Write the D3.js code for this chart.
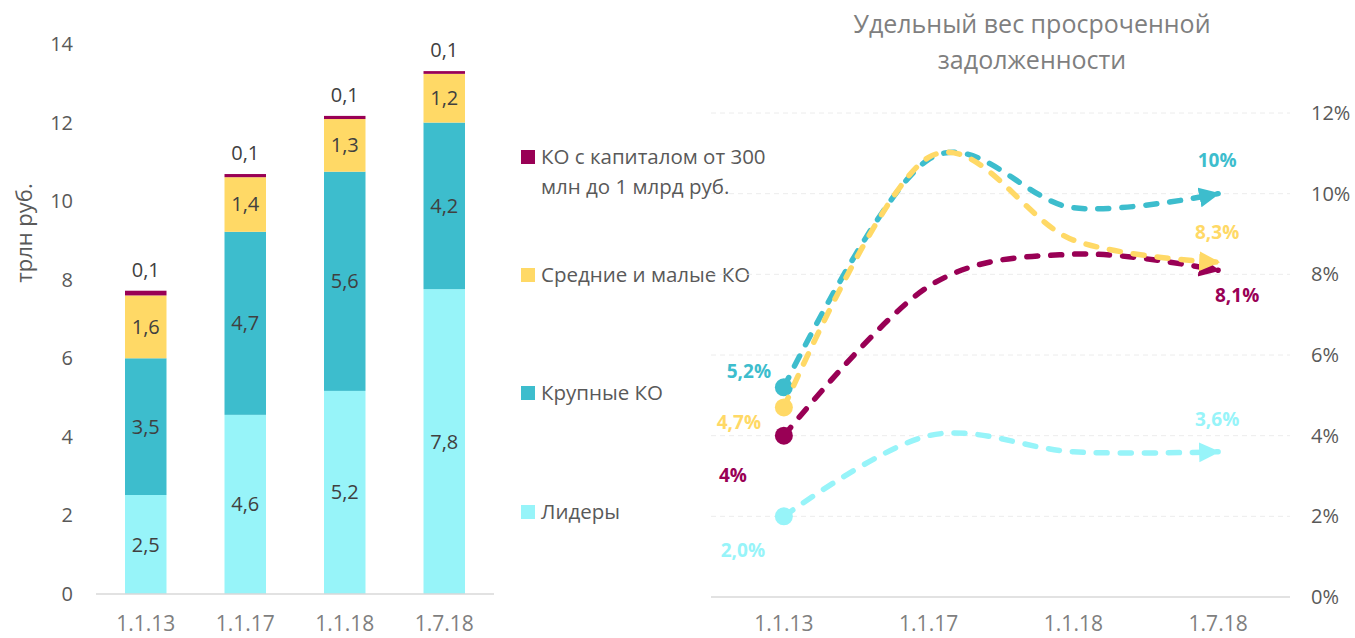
<!DOCTYPE html>
<html><head><meta charset="utf-8">
<script src="https://cdn.jsdelivr.net/npm/d3@7"></script>
<style>
body{margin:0;background:#fff;}
svg text{font-family:"Open Sans","Noto Sans",sans-serif;}
</style></head>
<body><svg id="c" width="1355" height="638"></svg>
<script>
// ---------- data ----------
const categories = ["1.1.13","1.1.17","1.1.18","1.7.18"];
const seriesNames = ["Лидеры","Крупные КО","Средние и малые КО","КО с капиталом от 300 млн до 1 млрд руб."];
const leaders   = [2.52, 4.56, 5.17, 7.76];
const large     = [3.48, 4.66, 5.58, 4.24];
const midSmall  = [1.60, 1.39, 1.34, 1.24];
const smallCap  = [0.12, 0.08, 0.08, 0.07];
const leftTicks = [0,2,4,6,8,10,12,14];

const shareLeaders  = [2.0, 4.0, 3.6, 3.6];
const shareLarge    = [5.2, 10.85, 9.65, 10.0];
const shareMidSmall = [4.7, 10.9, 8.85, 8.3];
const shareSmallCap = [4.0, 7.7, 8.5, 8.1];
const rightTicks = [0,2,4,6,8,10,12];
const startLabels = ["2,0%","5,2%","4,7%","4%"];
const endLabels   = ["3,6%","10%","8,3%","8,1%"];

const colors = ["#97f4f9","#3dbdcd","#ffd966","#990055"];

const svg = d3.select("#c");
const fmt = v => d3.format(".1f")(v).replace(".", ",");

// ---------- left stacked bars ----------
const x = d3.scaleBand().domain(categories).range([96,494]).paddingInner(0.583).paddingOuter(0.2915);
const y = d3.scaleLinear().domain([0,14]).range([594,44]);
const rows = categories.map((c,i)=>({cat:c, s0:leaders[i], s1:large[i], s2:midSmall[i], s3:smallCap[i]}));
const stack = d3.stack().keys(["s0","s1","s2","s3"])(rows);

const gL = svg.append("g");
stack.forEach((layer,li)=>{
  gL.selectAll(null).data(layer).enter().append("rect")
    .attr("x", d=>x(d.data.cat)).attr("width", x.bandwidth())
    .attr("y", d=>y(d[1])).attr("height", d=>y(d[0])-y(d[1]))
    .attr("fill", colors[li]);
  gL.selectAll(null).data(layer).enter().append("text")
    .attr("x", d=>x(d.data.cat)+x.bandwidth()/2)
    .attr("y", d=> li<3 ? (y(d[0])+y(d[1]))/2 : y(d[1])-21)
    .attr("dy","0.35em").attr("text-anchor","middle")
    .attr("font-size",20).attr("fill","#404040")
    .text(d=>fmt(d[1]-d[0]));
});
gL.append("line").attr("x1",96).attr("x2",494).attr("y1",y(0)).attr("y2",y(0))
  .attr("stroke","#d9d9d9").attr("stroke-width",1.5);
gL.selectAll(null).data(leftTicks).enter().append("text")
  .attr("x",73).attr("y",d=>y(d)).attr("dy","0.35em").attr("text-anchor","end")
  .attr("font-size",20).attr("fill","#595959").text(d=>d);
gL.selectAll(null).data(categories).enter().append("text")
  .attr("x",d=>x(d)+x.bandwidth()/2).attr("y",624).attr("dy","0.35em").attr("text-anchor","middle")
  .attr("font-size",21).attr("fill","#7f7f7f").text(d=>d);
gL.append("text").attr("transform","translate(24,233) rotate(-90)")
  .attr("text-anchor","middle").attr("dy","0.35em").attr("font-size",22).attr("fill","#595959")
  .text("трлн руб.");

// ---------- legend ----------
const legendItems = [
  {c:colors[3], lines:["КО с капиталом от 300","млн до 1 млрд руб."], y:157},
  {c:colors[2], lines:["Средние и малые КО"], y:275},
  {c:colors[1], lines:["Крупные КО"], y:393},
  {c:colors[0], lines:["Лидеры"], y:512}
];
const gLeg = svg.append("g");
legendItems.forEach(it=>{
  gLeg.append("rect").attr("x",521).attr("y",it.y-7).attr("width",14).attr("height",14).attr("fill",it.c);
  it.lines.forEach((t,k)=>{
    gLeg.append("text").attr("x",541).attr("y",it.y+k*30).attr("dy","0.35em")
      .attr("font-size",20.5).attr("fill","#595959").text(t);
  });
});

// ---------- right line chart ----------
const x2 = d3.scalePoint().domain(categories).range([711.5,1290.5]).padding(0.5);
const y2 = d3.scaleLinear().domain([0,12]).range([597,113]);
const gR = svg.append("g");
gR.append("text").attr("x",1032).attr("y",24).attr("dy","0.35em").attr("text-anchor","middle")
  .attr("font-size",25).attr("fill","#7f7f7f").text("Удельный вес просроченной");
gR.append("text").attr("x",1032).attr("y",60).attr("dy","0.35em").attr("text-anchor","middle")
  .attr("font-size",25).attr("fill","#7f7f7f").text("задолженности");
gR.selectAll(null).data(rightTicks.filter(d=>d>0)).enter().append("line")
  .attr("x1",711).attr("x2",1290).attr("y1",d=>y2(d)).attr("y2",d=>y2(d))
  .attr("stroke","#ececec").attr("stroke-width",1).attr("stroke-dasharray","5,4");
gR.append("line").attr("x1",711).attr("x2",1290).attr("y1",y2(0)).attr("y2",y2(0))
  .attr("stroke","#d9d9d9").attr("stroke-width",1.5);
gR.selectAll(null).data(rightTicks).enter().append("text")
  .attr("x",1311).attr("y",d=>y2(d)).attr("dy","0.35em")
  .attr("font-size",20).attr("fill","#595959").text(d=>d+"%");
gR.selectAll(null).data(categories).enter().append("text")
  .attr("x",d=>x2(d)).attr("y",624).attr("dy","0.35em").attr("text-anchor","middle")
  .attr("font-size",21).attr("fill","#7f7f7f").text(d=>d);

const defs = svg.append("defs");
colors.forEach((c,i)=>{
  defs.append("marker").attr("id","arr"+i).attr("markerUnits","userSpaceOnUse")
    .attr("markerWidth",24).attr("markerHeight",24).attr("refX",19).attr("refY",10)
    .attr("orient","auto").append("path").attr("d","M0,0 L21,10 L0,20 Z").attr("fill",c);
});

const shareSeries = [shareLeaders, shareLarge, shareMidSmall, shareSmallCap];
const startOff = [[-41,34],[-35,-16],[-45,15],[-51,40]];
const endOff   = [[-1,-32],[-1,-33],[-1,-30],[19,25]];
const line = d3.line().x((d,i)=>x2(categories[i])).y(d=>y2(d)).curve(d3.curveCatmullRom.alpha(0));
const drawOrder = [0,3,1,2];
drawOrder.forEach(si=>{
  const vals = shareSeries[si];
  gR.append("path").attr("d",line(vals)).attr("fill","none").attr("stroke",colors[si])
    .attr("stroke-width",5.5).attr("stroke-linecap","round").attr("stroke-dasharray","11,13")
    .attr("marker-end","url(#arr"+si+")");
  gR.append("circle").attr("cx",x2(categories[0])).attr("cy",y2(vals[0])).attr("r",9).attr("fill",colors[si]);
});
shareSeries.forEach((vals,si)=>{
  const n = vals.length-1;
  gR.append("text").attr("x",x2(categories[0])+startOff[si][0]).attr("y",y2(vals[0])+startOff[si][1])
    .attr("dy","0.35em").attr("text-anchor","middle").attr("font-weight","bold")
    .attr("font-size",19).attr("fill",colors[si]).text(startLabels[si]);
  gR.append("text").attr("x",x2(categories[n])+endOff[si][0]).attr("y",y2(vals[n])+endOff[si][1])
    .attr("dy","0.35em").attr("text-anchor","middle").attr("font-weight","bold")
    .attr("font-size",19).attr("fill",colors[si]).text(endLabels[si]);
});
</script></body></html>
